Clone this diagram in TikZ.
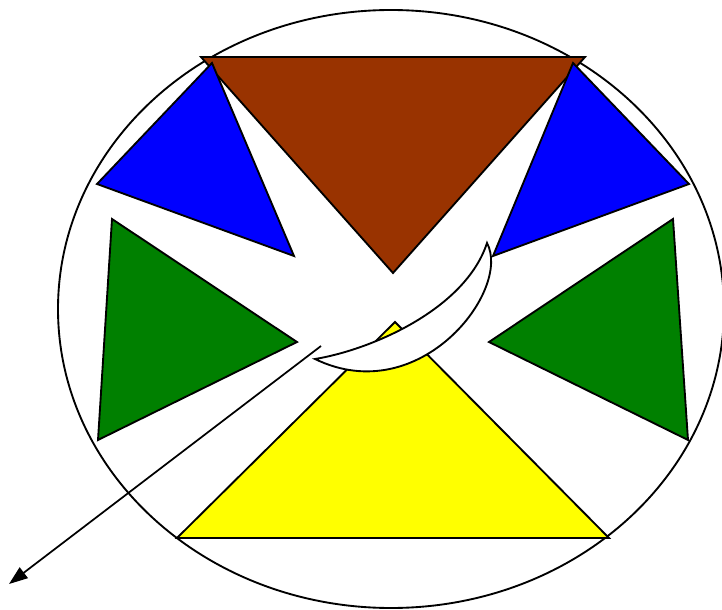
\documentclass[tikz,border=0pt]{standalone}
\usepackage{xcolor}
\usepackage{tikz}
\usetikzlibrary{arrows.meta}
\definecolor{rustbrown}{HTML}{993300}
\definecolor{pureblue}{HTML}{0000FF}
\definecolor{leafgreen}{HTML}{008000}
\definecolor{sunyellow}{HTML}{FFFF00}
\tikzset{
  shp/.style    = {draw=black, line width=1.4pt, line join=miter},
  browntri/.style = {shp, fill=rustbrown},
  bluetri/.style  = {shp, fill=pureblue},
  greentri/.style = {shp, fill=leafgreen},
  yellowtri/.style= {shp, fill=sunyellow},
  moon/.style   = {shp, fill=white},
  arr/.style    = {-{Triangle[length=14pt,width=10pt]}, line width=1.3pt},
}

\begin{document}
\begin{tikzpicture}[x=0.75pt, y=-0.75pt]
  \useasboundingbox (0,0) rectangle (722,610);

  % outer ring
  \draw[shp, fill=white] (391,309) ellipse [x radius=333, y radius=299];

  % top triangle and its two blue wings
  \draw[browntri]  (201,57) -- (585,57) -- (393,273) -- cycle;
  \draw[bluetri]   (212,63) -- (97,184) -- (294,256) -- cycle;
  \draw[bluetri]   (573,63) -- (689,184) -- (493,256) -- cycle;

  % side triangles
  \draw[greentri]  (112,219) -- (98,440) -- (297,342) -- cycle;
  \draw[greentri]  (673,219) -- (688,440) -- (489,342) -- cycle;

  % bottom triangle
  \draw[yellowtri] (395,322) -- (177,538) -- (609,538) -- cycle;

  % crescent
  \draw[moon] (487,243) .. controls (512,290) and (420,410) .. (315,359)
              .. controls (370,350) and (465,310) .. cycle;

  % pointer
  \coordinate (from) at (321,346);
  \coordinate (to)   at (9,584);
  \draw[arr] (from) -- (to);
\end{tikzpicture}
\end{document}
